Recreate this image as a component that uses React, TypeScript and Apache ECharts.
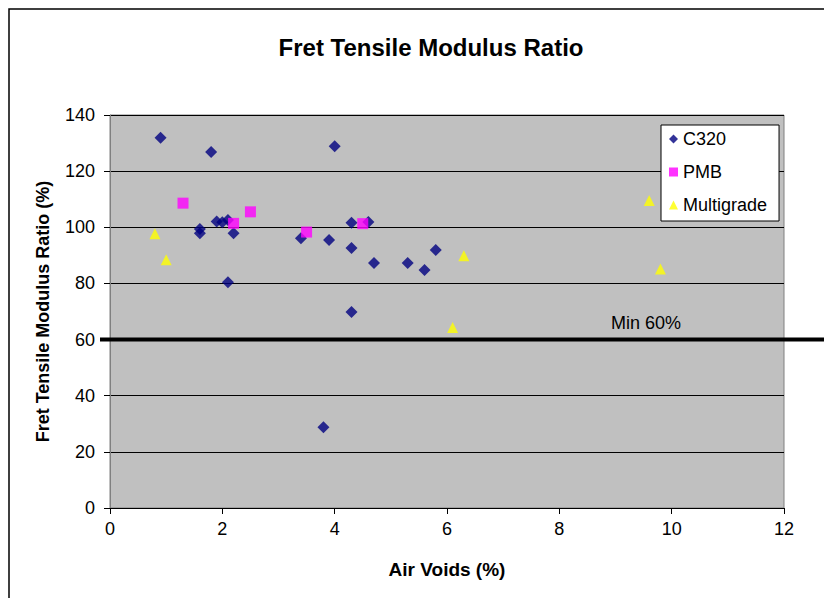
import React, { useEffect, useRef } from "react";
import * as echarts from "echarts";

const xTicks = [0, 2, 4, 6, 8, 10, 12];
const yTicks = [0, 20, 40, 60, 80, 100, 120, 140];

const c320X = [0.9, 1.8, 4.0, 1.9, 2.0, 2.1, 1.6, 1.6, 2.2, 2.1, 3.4, 3.9, 4.3, 4.3, 4.6, 4.7, 5.3, 5.6, 5.8, 4.3, 3.8];
const c320Y = [131.9, 126.8, 128.9, 102.1, 101.8, 102.6, 99.4, 97.9, 97.9, 80.4, 96.1, 95.5, 101.6, 92.6, 101.9, 87.3, 87.3, 84.8, 91.9, 69.8, 28.8];

const pmbX = [1.3, 2.2, 2.5, 3.5, 4.5];
const pmbY = [108.6, 101.4, 105.5, 98.3, 101.3];

const multiX = [0.8, 1.0, 6.3, 6.1, 9.6, 9.8];
const multiY = [97.7, 88.4, 89.9, 64.3, 109.5, 85.1];

const minLimit = 60;
const minLabel = "Min 60%";

const pairs = (xs: number[], ys: number[]) => xs.map((x, i) => [x, ys[i]]);

export default function App() {
  const ref = useRef<HTMLDivElement>(null);
  useEffect(() => {
    document.body.style.margin = "0";
    const chart = echarts.init(ref.current!, null, { renderer: "svg" });
    const font = "'Liberation Sans', Arial, sans-serif";
    chart.setOption({
      animation: false,
      backgroundColor: "#ffffff",
      textStyle: { fontFamily: font },
      title: {
        text: "Fret Tensile Modulus Ratio",
        left: 426,
        textAlign: "center",
        top: 30,
        textStyle: { fontSize: 24, fontWeight: "bold", color: "#000", fontFamily: font },
      },
      grid: {
        left: 110,
        right: 40,
        top: 115,
        bottom: 90,
        show: true,
        backgroundColor: "#c0c0c0",
        borderColor: "#808080",
        borderWidth: 1,
      },
      legend: {
        orient: "vertical",
        left: 661,
        top: 125,
        backgroundColor: "#ffffff",
        borderColor: "#000",
        borderWidth: 1,
        padding: [5, 12, 7, 8],
        itemGap: 15,
        itemWidth: 9,
        itemHeight: 9,
        textStyle: { fontSize: 18, color: "#000", fontFamily: font },
        data: ["C320", "PMB", "Multigrade"],
      },
      xAxis: {
        type: "value",
        min: xTicks[0],
        max: xTicks[xTicks.length - 1],
        interval: 2,
        name: "Air Voids (%)",
        nameLocation: "middle",
        nameGap: 52,
        nameTextStyle: { fontSize: 19, fontWeight: "bold", color: "#000", fontFamily: font },
        axisLine: { show: true, lineStyle: { color: "#000", width: 1 } },
        axisTick: { show: true, length: 6, lineStyle: { color: "#000" } },
        axisLabel: { fontSize: 18, color: "#000", margin: 12, fontFamily: font },
        splitLine: { show: false },
      },
      yAxis: {
        type: "value",
        min: yTicks[0],
        max: yTicks[yTicks.length - 1],
        interval: 20,
        name: "Fret Tensile Modulus Ratio (%)",
        nameLocation: "middle",
        nameGap: 58,
        nameTextStyle: { fontSize: 18, fontWeight: "bold", color: "#000", fontFamily: font },
        axisLine: { show: true, lineStyle: { color: "#808080", width: 1 } },
        axisTick: { show: true, length: 6, lineStyle: { color: "#000" } },
        axisLabel: { fontSize: 18, color: "#000", margin: 15, fontFamily: font },
        splitLine: { show: true, lineStyle: { color: "#000", width: 1 } },
      },
      series: [
        {
          name: "C320",
          type: "scatter",
          symbol: "diamond",
          symbolSize: 12,
          itemStyle: { color: "#000080" },
          data: pairs(c320X, c320Y),
          z: 3,
        },
        {
          name: "PMB",
          type: "scatter",
          symbol: "rect",
          symbolSize: 11,
          itemStyle: { color: "#ff00ff" },
          data: pairs(pmbX, pmbY),
          z: 4,
        },
        {
          name: "Multigrade",
          type: "scatter",
          symbol: "triangle",
          symbolSize: 11,
          itemStyle: { color: "#ffff00" },
          data: pairs(multiX, multiY),
          z: 3,
        },
      ],
    });
    const p = chart.convertToPixel({ gridIndex: 0 }, [0, minLimit]) as number[];
    const yPix = p[1];
    chart.setOption({
      graphic: [
        {
          type: "rect",
          shape: { x: 9, y: 9, width: 900, height: 700 },
          style: { fill: "none", stroke: "#000", lineWidth: 1.5 },
          silent: true,
          z: 10,
        },
        {
          type: "line",
          shape: { x1: p[0] - 10, y1: yPix, x2: 824, y2: yPix },
          style: { stroke: "#000", lineWidth: 4 },
          silent: true,
          z: 1,
        },
        {
          type: "text",
          x: 611,
          y: yPix - 8,
          style: {
            text: minLabel,
            fontSize: 18,
            fill: "#000",
            fontFamily: font,
            textVerticalAlign: "bottom",
          },
          silent: true,
          z: 5,
        },
      ],
    });
    return () => chart.dispose();
  }, []);
  return (
    <div
      ref={ref}
      style={{ position: "absolute", left: 0, top: 0, width: 824, height: 598 }}
    />
  );
}
